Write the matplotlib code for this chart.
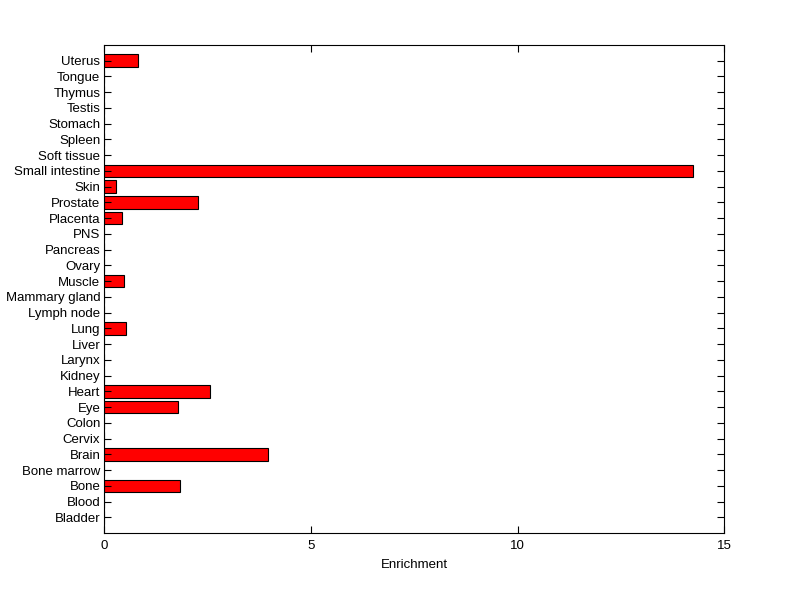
import numpy as np
import matplotlib.pyplot as plt

# Tissue enrichment values (bottom to top)
tissues = ['Bladder', 'Blood', 'Bone', 'Bone marrow', 'Brain', 'Cervix', 'Colon',
           'Eye', 'Heart', 'Kidney', 'Larynx', 'Liver', 'Lung', 'Lymph node',
           'Mammary gland', 'Muscle', 'Ovary', 'Pancreas', 'PNS', 'Placenta',
           'Prostate', 'Skin', 'Small intestine', 'Soft tissue', 'Spleen',
           'Stomach', 'Testis', 'Thymus', 'Tongue', 'Uterus']
enrichment = [0, 0, 1.82, 0, 3.95, 0, 0,
              1.77, 2.55, 0, 0, 0, 0.51, 0,
              0, 0.48, 0, 0, 0, 0.42,
              2.26, 0.29, 14.23, 0, 0,
              0, 0, 0, 0, 0.82]

plt.rcParams['font.family'] = ['Liberation Sans', 'DejaVu Sans']

fig = plt.figure(figsize=(8, 5.99), dpi=100)
ax = fig.add_axes([0.1306, 0.110, 0.775, 0.815])

pos = np.arange(1, len(tissues) + 1)
ax.barh(pos, enrichment, height=0.8, color='#ff0000', edgecolor='k', linewidth=0.8)

ax.set_xlim(0, 15)
ax.set_ylim(0, len(tissues) + 1)
ax.set_xticks([0, 5, 10, 15])
ax.set_yticks(pos)
ax.set_yticklabels(tissues)
ax.set_xlabel('Enrichment', fontsize=9.5, labelpad=5)
ax.tick_params(axis='both', direction='in', top=True, right=True,
               labelsize=9.5, length=5, width=0.8)
ax.tick_params(axis='x', pad=5)
ax.tick_params(axis='y', pad=3)
for s in ax.spines.values():
    s.set_linewidth(0.8)

fig.savefig('out.png', dpi=100)
